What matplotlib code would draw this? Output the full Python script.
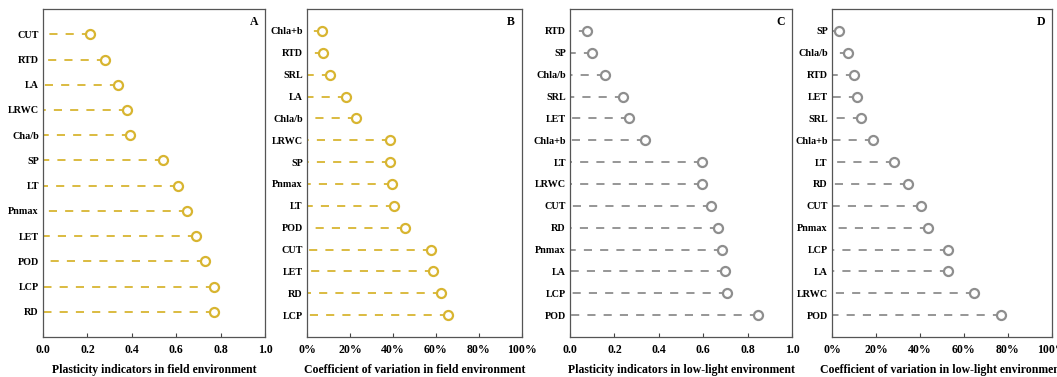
import matplotlib
matplotlib.use("Agg")
import matplotlib.pyplot as plt
from matplotlib.ticker import FuncFormatter

plt.rcParams['font.family'] = ['Liberation Serif', 'DejaVu Serif']
plt.rcParams['font.weight'] = 'bold'

gold = '#D8B531'
grey = '#8E8E8E'

# panel A: plasticity, field
a_labels = ['CUT', 'RTD', 'LA', 'LRWC', 'Cha/b', 'SP', 'LT', 'Pnmax', 'LET', 'POD', 'LCP', 'RD']
a_values = [0.21, 0.28, 0.34, 0.38, 0.39, 0.54, 0.61, 0.65, 0.69, 0.73, 0.77, 0.77]

# panel B: coefficient of variation, field (%)
b_labels = ['Chla+b', 'RTD', 'SRL', 'LA', 'Chla/b', 'LRWC', 'SP', 'Pnmax', 'LT', 'POD',
            'CUT', 'LET', 'RD', 'LCP']
b_values = [7.2, 7.4, 10.9, 18.3, 22.6, 38.8, 38.8, 39.7, 40.3, 45.4, 57.7, 58.6, 62.2, 65.4]

# panel C: plasticity, low light
c_labels = ['RTD', 'SP', 'Chla/b', 'SRL', 'LET', 'Chla+b', 'LT', 'LRWC', 'CUT', 'RD',
            'Pnmax', 'LA', 'LCP', 'POD']
c_values = [0.077, 0.097, 0.158, 0.238, 0.265, 0.336, 0.595, 0.595, 0.636, 0.668,
            0.686, 0.697, 0.708, 0.845]

# panel D: coefficient of variation, low light (%)
d_labels = ['SP', 'Chla/b', 'RTD', 'LET', 'SRL', 'Chla+b', 'LT', 'RD', 'CUT', 'Pnmax',
            'LCP', 'LA', 'LRWC', 'POD']
d_values = [3.4, 7.4, 9.8, 11.4, 13.4, 18.5, 28.3, 34.5, 40.3, 43.7, 52.9, 52.9, 64.8, 76.8]

fig = plt.figure(figsize=(10.57, 3.77), dpi=100)

panels = [
    (a_labels, a_values, gold, 'A', 'Plasticity indicators in field environment', False, [0.0407, 0.106, 0.210, 0.870]),
    (b_labels, b_values, gold, 'B', 'Coefficient of variation in field environment', True, [0.2904, 0.106, 0.2034, 0.870]),
    (c_labels, c_values, grey, 'C', 'Plasticity indicators in low-light environment', False, [0.5393, 0.106, 0.2100, 0.870]),
    (d_labels, d_values, grey, 'D', 'Coefficient of variation in low-light environment', True, [0.7871, 0.106, 0.2080, 0.870]),
]

for labels, values, col, letter, xlab, pct, pos in panels:
    ax = fig.add_axes(pos)
    n = len(labels)
    ys = list(range(n - 1, -1, -1))
    for v, y in zip(values, ys):
        ax.plot([v, 0], [y, y], color=col, lw=1.3, dashes=(4.5, 4.5))
    ax.plot(values, ys, 'o', mfc='white', mec=col, mew=1.6, ms=6.5, ls='none', zorder=3)
    ax.set_yticks(ys)
    ax.set_yticklabels(labels)
    ax.set_ylim(-1, n)
    if pct:
        ax.set_xlim(0, 100)
        ax.set_xticks([0, 20, 40, 60, 80, 100])
        ax.xaxis.set_major_formatter(FuncFormatter(lambda x, p: '%d%%' % x))
    else:
        ax.set_xlim(0, 1)
        ax.set_xticks([0, 0.2, 0.4, 0.6, 0.8, 1.0])
        ax.xaxis.set_major_formatter(FuncFormatter(lambda x, p: '%.1f' % x))
    ax.tick_params(axis='x', direction='in', length=3, labelsize=8.5, width=0.8, color='#444444', pad=5)
    ax.tick_params(axis='y', length=0, labelsize=7.3, pad=3)
    for s in ax.spines.values():
        s.set_color('#555555')
        s.set_linewidth(0.9)
    ax.set_xlabel(xlab, fontsize=8.5, fontweight='bold', labelpad=6)
    ax.text(0.95, 0.96, letter, transform=ax.transAxes, ha='center', va='center',
            fontsize=8.5, fontweight='bold')

fig.savefig('out.png', dpi=100)
